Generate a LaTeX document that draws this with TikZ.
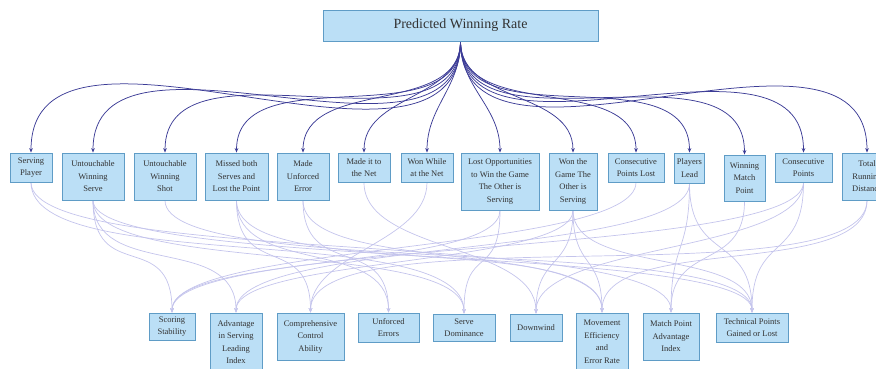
\documentclass[tikz,border=0pt]{standalone}
\usepackage{fontspec}
\setmainfont{Liberation Serif}
\usetikzlibrary{arrows.meta,backgrounds}
\definecolor{boxfill}{HTML}{BBDFF6}
\definecolor{boxdraw}{HTML}{5F9CC6}
\definecolor{topline}{HTML}{3C3C96}
\definecolor{lowline}{HTML}{C4C4EC}
\definecolor{txt}{HTML}{333333}
\begin{document}
\begin{tikzpicture}[x=1pt,y=-1pt,
  box/.style={draw=boxdraw, fill=boxfill, line width=0.8pt, align=center, inner sep=1pt, text=txt, font=\fontsize{8.5}{12.5}\selectfont},
  topedge/.style={draw=topline, line width=0.75pt, -{Stealth[length=4.5pt,width=3.6pt]}},
  lowedge/.style={draw=lowline, line width=0.7pt, -{Stealth[length=4.5pt,width=3.6pt]}}]
\useasboundingbox (0,0) rectangle (876,369);
% root
\node[box, font=\fontsize{14}{16}\selectfont, minimum width=275pt, minimum height=31pt] (root) at (460.5,25.5) {Predicted Winning Rate};
% middle row
\node[box, minimum width=42pt, minimum height=29pt] (serving) at (31,167.5) {Serving\\Player};
\node[box, minimum width=62pt, minimum height=47pt] (uwserve) at (93,176.5) {Untouchable\\Winning\\Serve};
\node[box, minimum width=62pt, minimum height=47pt] (uwshot) at (165,176.5) {Untouchable\\Winning\\Shot};
\node[box, minimum width=63pt, minimum height=47pt] (missed) at (236.5,176.5) {Missed both\\Serves and\\Lost the Point};
\node[box, minimum width=52pt, minimum height=47pt] (unforced) at (303,176.5) {Made\\Unforced\\Error};
\node[box, minimum width=52pt, minimum height=29pt] (net) at (364,167.5) {Made it to\\the Net};
\node[box, minimum width=52pt, minimum height=29pt] (wonnet) at (427,167.5) {Won While\\at the Net};
\node[box, minimum width=78pt, minimum height=57pt] (lostopp) at (500,181.5) {Lost Opportunities\\to Win the Game\\The Other is\\Serving};
\node[box, minimum width=48pt, minimum height=57pt] (wongame) at (573,181.5) {Won the\\Game The\\Other is\\Serving};
\node[box, minimum width=56pt, minimum height=29pt] (conslost) at (636,167.5) {Consecutive\\Points Lost};
\node[box, minimum width=30pt, minimum height=30pt] (lead) at (689.5,168) {Players\\Lead};
\node[box, minimum width=41pt, minimum height=46pt] (winmp) at (744.5,178) {Winning\\Match\\Point};
\node[box, minimum width=57pt, minimum height=29pt] (consec) at (803.5,167.5) {Consecutive\\Points};
\node[box, minimum width=50pt, minimum height=47pt] (total) at (867,176.5) {Total\\Running\\Distance};
% bottom row
\node[box, minimum width=46pt, minimum height=27pt] (scoring) at (172,326.5) {Scoring\\Stability};
\node[box, minimum width=52pt, minimum height=58pt] (advantage) at (236,342) {Advantage\\in Serving\\Leading\\Index};
\node[box, minimum width=67pt, minimum height=47pt] (comprehensive) at (310.5,336.5) {Comprehensive\\Control\\Ability};
\node[box, minimum width=61pt, minimum height=29pt] (unferr) at (388.5,327.5) {Unforced\\Errors};
\node[box, minimum width=62pt, minimum height=27pt] (servedom) at (464,327.5) {Serve\\Dominance};
\node[box, minimum width=52pt, minimum height=27pt] (downwind) at (536,327.5) {Downwind};
\node[box, minimum width=52pt, minimum height=58pt] (movement) at (602,342) {Movement\\Efficiency\\and\\Error Rate};
\node[box, minimum width=56pt, minimum height=47pt] (matchadv) at (671,336.5) {Match Point\\Advantage\\Index};
\node[box, minimum width=72pt, minimum height=29pt] (technical) at (752,327.5) {Technical Points\\Gained or Lost};
\begin{scope}[on background layer]
% top edges
\draw[topedge] (root.south) .. controls +(0,173.8) and +(0,-173.8) .. (serving.north);
\draw[topedge] (root.south) .. controls +(0,150.4) and +(0,-150.4) .. (uwserve.north);
\draw[topedge] (root.south) .. controls +(0,123.7) and +(0,-123.7) .. (uwshot.north);
\draw[topedge] (root.south) .. controls +(0,98.0) and +(0,-98.0) .. (missed.north);
\draw[topedge] (root.south) .. controls +(0,75.7) and +(0,-75.7) .. (unforced.north);
\draw[topedge] (root.south) .. controls +(0,57.9) and +(0,-57.9) .. (net.north);
\draw[topedge] (root.south) .. controls +(0,45.8) and +(0,-45.8) .. (wonnet.north);
\draw[topedge] (root.south) .. controls +(0,46.5) and +(0,-46.5) .. (lostopp.north);
\draw[topedge] (root.south) .. controls +(0,62.1) and +(0,-62.1) .. (wongame.north);
\draw[topedge] (root.south) .. controls +(0,81.5) and +(0,-81.5) .. (conslost.north);
\draw[topedge] (root.south) .. controls +(0,99.8) and +(0,-99.8) .. (lead.north);
\draw[topedge] (root.south) .. controls +(0,119.8) and +(0,-119.8) .. (winmp.north);
\draw[topedge] (root.south) .. controls +(0,141.3) and +(0,-141.3) .. (consec.north);
\draw[topedge] (root.south) .. controls +(0,165.1) and +(0,-165.1) .. (total.north);
% lower edges
\foreach \s/\t/\a in {serving/servedom/95, serving/matchadv/85,
  uwserve/scoring/85, uwserve/advantage/80, uwserve/servedom/75, uwserve/technical/70,
  uwshot/technical/80,
  missed/comprehensive/80, missed/unferr/75, missed/movement/85,
  unforced/unferr/80, unforced/movement/75,
  net/downwind/70, wonnet/comprehensive/60,
  lostopp/servedom/70, lostopp/scoring/60,
  wongame/downwind/60, wongame/advantage/55, wongame/movement/60, wongame/technical/65,
  conslost/scoring/70,
  lead/advantage/75, lead/technical/80, lead/matchadv/70,
  winmp/matchadv/70,
  consec/scoring/75, consec/technical/80, consec/downwind/70,
  total/movement/80, total/comprehensive/100}
  \draw[lowedge] (\s.south) .. controls +(0,\a) and +(0,-\a) .. (\t.north);
\end{scope}
\end{tikzpicture}
\end{document}
